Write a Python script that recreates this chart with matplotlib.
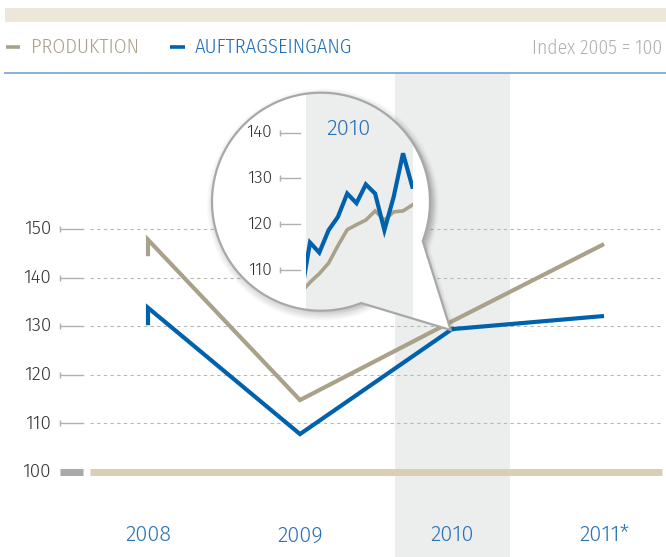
import matplotlib
matplotlib.use("Agg")
import matplotlib.pyplot as plt
from matplotlib.patches import Circle, Polygon, Rectangle
import numpy as np

# yearly values, index 2005 = 100
years = ["2008", "2009", "2010", "2011*"]
year_pos = [0, 1, 2, 3]
# both series start with a short vertical step at 2008
prod_x = [0, 0, 1, 2, 3]
produktion = [144.4, 147.8, 114.8, 131.0, 146.9]
auft_x = [0, 0, 1, 2, 3]
auftragseingang = [130.2, 133.8, 107.8, 129.4, 132.1]
yticks = [100, 110, 120, 130, 140, 150]

# monthly values shown in the magnifier (2010)
months = list(range(13))
produktion_2010 = [105.0, 107.3, 109.2, 111.5, 115.3, 118.8, 119.9, 120.9, 122.9, 120.9, 122.7, 122.9, 124.2]
auftrag_2010 = [104.0, 116.0, 113.8, 118.7, 121.6, 126.7, 124.6, 128.7, 126.7, 118.7, 126.0, 135.5, 128.2]
zoom_ticks = [110, 120, 130, 140]

BEIGE = "#a9a189"
BLUE = "#0062ad"
YEAR_BLUE = "#2b73b9"
BAND = "#eceeee"
TICK = "#b0b0b0"
COND = ["Fira Sans Condensed", "DejaVu Sans"]
FONT = ["Fira Sans", "DejaVu Sans"]

W, H = 666, 557
fig = plt.figure(figsize=(W / 100, H / 100), dpi=100)

# main chart, one x unit per year
ax = fig.add_axes([0, 0, 1, 1])
ax.set_xlim(-148 / 152, (W - 148) / 152)
ax.set_ylim(100 - (H - 472) / 4.86, 100 + 472 / 4.86)
ax.axis("off")

def px(p):
    return (p - 148) / 152

ax.axvspan(px(395), px(510), ymin=0, ymax=1 - 73 / H, color=BAND, lw=0, zorder=0)

# header: beige bar, legend, blue rule
ax.add_patch(Rectangle((5 / W, 1 - 22 / H), 1 - 5 / W, 14 / H, transform=ax.transAxes,
                       color="#ede6da", lw=0))
ax.plot([5 / W, 1], [1 - 73 / H] * 2, transform=ax.transAxes, color="#7aaadb", lw=1.3)
ax.plot([6 / W, 20 / W], [1 - 47 / H] * 2, transform=ax.transAxes, color=BEIGE, lw=2.6,
        solid_capstyle="butt")
ax.text(31 / W, 1 - 47.5 / H, "PRODUKTION", transform=ax.transAxes, va="center", ha="left",
        fontsize=14.8, color="#aaa28a", family=COND, weight=300)
ax.plot([170 / W, 185 / W], [1 - 47 / H] * 2, transform=ax.transAxes, color=BLUE, lw=2.6,
        solid_capstyle="butt")
ax.text(195 / W, 1 - 47.5 / H, "AUFTRAGSEINGANG", transform=ax.transAxes, va="center",
        ha="left", fontsize=14.8, color="#1f6cb5", family=COND, weight=300)
ax.text(662 / W, 1 - 48 / H, "Index 2005 = 100", transform=ax.transAxes, va="center",
        ha="right", fontsize=14, color="#b0b0b0", family=COND, weight=300)

# y grid, ticks and labels
for v in yticks:
    if v == 100:
        ax.plot([px(60), px(83)], [v, v], color="#a9a9a9", lw=5, solid_capstyle="butt")
        ax.plot([px(90), px(662)], [v, v], color="#dacfb4", lw=5, solid_capstyle="butt")
    else:
        ax.plot([px(60), px(83)], [v, v], color=TICK, lw=1)
        ax.plot([px(60)], [v], marker="|", ms=5, color=TICK, mew=1)
        ax.plot([px(90), px(662)], [v, v], color="#b8b8b8", lw=0.8, dashes=(3, 3))
    ax.text(px(51), v, str(v), ha="right", va="center", fontsize=13.5, color="#333333",
            family=FONT, weight=300)

for x, y in zip(year_pos, years):
    ax.text(x, 87.0, y, ha="center", va="center", fontsize=15.7, color=YEAR_BLUE, family=FONT,
            weight=300)

ax.plot(prod_x, produktion, color=BEIGE, lw=3, solid_joinstyle="miter", solid_capstyle="butt")
ax.plot(auft_x, auftragseingang, color=BLUE, lw=3, solid_joinstyle="miter",
        solid_capstyle="butt")

# magnifier bubble, drawn in pixel coordinates of the image (y down)
cx, cy, R = 321, 201.7, 109
tip = (450.7, 330)
a1, a2 = 21.1, 68.4
t = np.radians(np.linspace(a2, a1 + 360, 240))
bubble = np.column_stack([cx + R * np.cos(t), cy + R * np.sin(t)])
bubble = np.vstack([bubble, tip])

ov = fig.add_axes([0, 0, 1, 1], zorder=1, label="overlay")
ov.set_xlim(0, W)
ov.set_ylim(H, 0)
ov.axis("off")
for k in range(1, 8):
    ov.add_patch(Circle((cx + 2, cy + 3), R + k, color="k", alpha=0.02, lw=0))
for k in range(1, 6):
    ov.add_patch(Polygon(bubble + [k * 1.2, k * 0.6], closed=True, color="k", alpha=0.025, lw=0))
ov.add_patch(Polygon(bubble, closed=True, color="white", lw=0))

# inner chart with monthly data
ix0, ix1 = 306, 413
iy0, iy1 = cy - R, 335
inner = fig.add_axes([ix0 / W, 1 - iy1 / H, (ix1 - ix0) / W, (iy1 - iy0) / H], zorder=2)
inner.set_xlim((ix0 - 300.7) / 9.3, (ix1 - 300.7) / 9.3)
inner.set_ylim(140 - (iy1 - 132.7) / 4.576, 140 + (132.7 - iy0) / 4.576)
inner.set_facecolor(BAND)
for s in inner.spines.values():
    s.set_visible(False)
inner.set_xticks([])
inner.set_yticks([])
clip = Polygon(bubble, closed=True, transform=ov.transData)
inner.patch.set_clip_path(clip)

l1, = inner.plot(months, produktion_2010, color=BEIGE, lw=2.6, solid_joinstyle="miter")
l2, = inner.plot(months, auftrag_2010, color=BLUE, lw=3, solid_joinstyle="miter")
l1.set_clip_path(clip)
l2.set_clip_path(clip)

def ipx(p):
    return (p - 300.7) / 9.3

for v in zoom_ticks:
    inner.plot([ipx(280), ipx(300)], [v, v], color=TICK, lw=1, clip_on=False)
    inner.plot([ipx(280)], [v], marker="|", ms=5, color=TICK, mew=1, clip_on=False)
    inner.text(ipx(272), v, str(v), ha="right", va="center", fontsize=12.5, color="#333333",
               family=FONT, weight=300)
inner.text(ipx(348), 140.8, "2010", ha="center", va="center", fontsize=16, color=YEAR_BLUE,
           family=FONT, weight=300)

# border of the bubble on top
top = fig.add_axes([0, 0, 1, 1], zorder=3, label="border")
top.set_xlim(0, W)
top.set_ylim(H, 0)
top.axis("off")
top.add_patch(Polygon(bubble, closed=True, fill=False, edgecolor="#a8a8a8", lw=1.6,
                      joinstyle="miter"))

fig.savefig("out.png", dpi=100)
